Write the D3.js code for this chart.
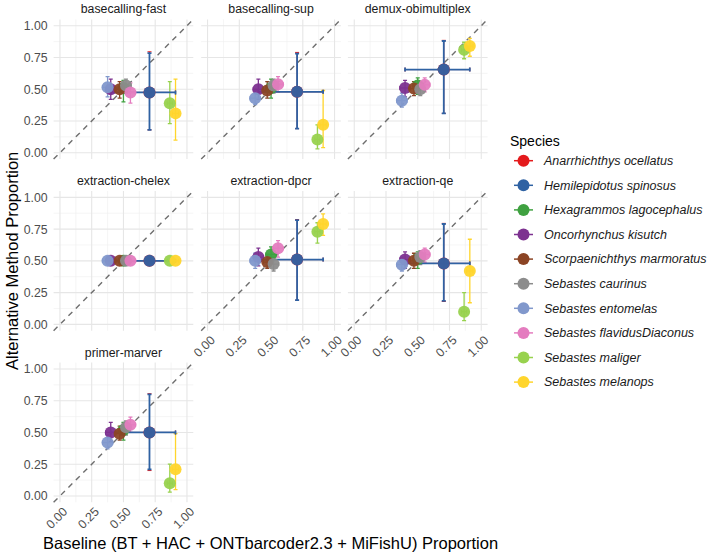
<!DOCTYPE html>
<html>
<head>
<meta charset="utf-8">
<script src="https://cdn.jsdelivr.net/npm/d3@7"></script>
<style>
  body { margin: 0; background: #fff; }
  svg { display: block; }
</style>
</head>
<body>
<script>
// species, in legend order
const species = [
    "Anarrhichthys ocellatus", "Hemilepidotus spinosus", "Hexagrammos lagocephalus",
    "Oncorhynchus kisutch", "Scorpaenichthys marmoratus", "Sebastes caurinus",
    "Sebastes entomelas", "Sebastes flavidusDiaconus", "Sebastes maliger", "Sebastes melanops"
];
const speciesColors = [
    "#e41a1c", "#2f62a3", "#3fa140", "#7d3290", "#8b4424",
    "#8c8c8c", "#8198cc", "#e47cbf", "#98d24e", "#ffd52c"
];

const panelNames = [
    "basecalling-fast", "basecalling-sup", "demux-obimultiplex",
    "extraction-chelex", "extraction-dpcr", "extraction-qe", "primer-marver"
];

// baseline proportion (x) per species, with its interval
const baseX  = [0.705, 0.705, 0.50, 0.40, 0.47, 0.52, 0.375, 0.555, 0.865, 0.91];
const baseLo = [0.40, 0.40, 0.46, 0.36, 0.44, 0.48, 0.335, 0.515, 0.845, 0.885];
const baseHi = [0.91, 0.91, 0.54, 0.44, 0.50, 0.56, 0.415, 0.595, 0.885, 0.935];

// alternative method proportion (y) per panel: [y, lo, hi] in species order
const altFast = [[0.475, 0.18, 0.795], [0.475, 0.18, 0.785], [0.51, 0.40, 0.57], [0.50, 0.42, 0.58],
    [0.50, 0.43, 0.56], [0.53, 0.47, 0.58], [0.515, 0.44, 0.60], [0.475, 0.39, 0.55], [0.39, 0.23, 0.56], [0.31, 0.10, 0.58]];
const altSup = [[0.48, 0.19, 0.79], [0.48, 0.19, 0.78], [0.51, 0.43, 0.58], [0.50, 0.42, 0.58],
    [0.49, 0.43, 0.56], [0.53, 0.47, 0.58], [0.43, 0.38, 0.49], [0.54, 0.48, 0.60], [0.105, 0.03, 0.22], [0.22, 0.04, 0.49]];
const altDemux = [[0.655, 0.31, 0.885], [0.655, 0.31, 0.88], [0.53, 0.46, 0.59], [0.51, 0.44, 0.57],
    [0.505, 0.45, 0.56], [0.50, 0.45, 0.55], [0.41, 0.36, 0.47], [0.535, 0.48, 0.59], [0.81, 0.74, 0.87], [0.84, 0.76, 0.90]];
const altChelex = [[0.50, 0.50, 0.50], [0.50, 0.50, 0.50], [0.50, 0.50, 0.50], [0.50, 0.50, 0.50],
    [0.50, 0.50, 0.50], [0.50, 0.50, 0.50], [0.50, 0.50, 0.50], [0.50, 0.50, 0.50], [0.50, 0.50, 0.50], [0.50, 0.50, 0.50]];
const altDpcr = [[0.51, 0.19, 0.825], [0.51, 0.19, 0.82], [0.55, 0.48, 0.61], [0.53, 0.46, 0.60],
    [0.49, 0.44, 0.55], [0.475, 0.42, 0.53], [0.50, 0.44, 0.56], [0.60, 0.53, 0.66], [0.73, 0.64, 0.80], [0.79, 0.70, 0.87]];
const altQe = [[0.48, 0.18, 0.795], [0.48, 0.185, 0.79], [0.515, 0.44, 0.57], [0.51, 0.44, 0.57],
    [0.50, 0.44, 0.56], [0.53, 0.47, 0.58], [0.47, 0.42, 0.53], [0.55, 0.49, 0.60], [0.10, 0.03, 0.25], [0.42, 0.17, 0.67]];
const altMarver = [[0.50, 0.20, 0.805], [0.50, 0.21, 0.80], [0.52, 0.44, 0.58], [0.50, 0.43, 0.58],
    [0.49, 0.44, 0.55], [0.54, 0.48, 0.59], [0.42, 0.37, 0.48], [0.56, 0.50, 0.62], [0.10, 0.03, 0.25], [0.21, 0.05, 0.49]];
const panelAlt = [altFast, altSup, altDemux, altChelex, altDpcr, altQe, altMarver];

const tickValues = [0, 0.25, 0.5, 0.75, 1];
const minorValues = [0.125, 0.375, 0.625, 0.875];

const width = 709, height = 556;
const panelSize = 139.7;
const colLeft = [53.6, 201.2, 347.9];
const rowTop = [19.4, 191.0, 362.6];
const font = "'Liberation Sans', Arial, sans-serif";

const svg = d3.select("body").append("svg")
    .attr("width", width)
    .attr("height", height)
    .style("font-family", font);

// build rows for each panel
const panels = panelNames.map((name, p) => ({
    name,
    col: p % 3,
    row: Math.floor(p / 3),
    rows: species.map((s, i) => ({
        species: s,
        color: speciesColors[i],
        x: baseX[i], xlo: baseLo[i], xhi: baseHi[i],
        y: panelAlt[p][i][0], ylo: panelAlt[p][i][1], yhi: panelAlt[p][i][2]
    }))
}));

// error bar widths (the red one sits underneath the blue one)
function barWidth(s) {
    if (s === "Hemilepidotus spinosus") return 1.8;
    if (s === "Anarrhichthys ocellatus") return 1.0;
    return 1.3;
}

panels.forEach(panel => {
    const left = colLeft[panel.col];
    const top = rowTop[panel.row];

    const x = d3.scaleLinear().domain([-0.05, 1.05]).range([left, left + panelSize]);
    const y = d3.scaleLinear().domain([-0.05, 1.05]).range([top + panelSize, top]);

    const g = svg.append("g");

    // grid lines
    g.selectAll(".minor-x").data(minorValues).join("line")
        .attr("x1", d => x(d)).attr("x2", d => x(d))
        .attr("y1", top).attr("y2", top + panelSize)
        .attr("stroke", "#efefef").attr("stroke-width", 0.6);
    g.selectAll(".minor-y").data(minorValues).join("line")
        .attr("y1", d => y(d)).attr("y2", d => y(d))
        .attr("x1", left).attr("x2", left + panelSize)
        .attr("stroke", "#efefef").attr("stroke-width", 0.6);
    g.selectAll(".major-x").data(tickValues).join("line")
        .attr("x1", d => x(d)).attr("x2", d => x(d))
        .attr("y1", top).attr("y2", top + panelSize)
        .attr("stroke", "#e6e6e6").attr("stroke-width", 1.1);
    g.selectAll(".major-y").data(tickValues).join("line")
        .attr("y1", d => y(d)).attr("y2", d => y(d))
        .attr("x1", left).attr("x2", left + panelSize)
        .attr("stroke", "#e6e6e6").attr("stroke-width", 1.1);

    // identity line
    g.append("line")
        .attr("x1", x(-0.05)).attr("y1", y(-0.05))
        .attr("x2", x(1.05)).attr("y2", y(1.05))
        .attr("stroke", "#6e6e6e")
        .attr("stroke-width", 1.4)
        .attr("stroke-dasharray", "5.5,5");

    // strip title
    svg.append("text")
        .attr("x", left + panelSize / 2)
        .attr("y", top - 6)
        .attr("text-anchor", "middle")
        .attr("font-size", "12.3px")
        .attr("fill", "#1a1a1a")
        .text(panel.name);

    const cap = 2;

    // vertical error bars
    panel.rows.forEach(d => {
        const path = d3.path();
        path.moveTo(x(d.x) - cap, y(d.yhi)); path.lineTo(x(d.x) + cap, y(d.yhi));
        path.moveTo(x(d.x), y(d.yhi)); path.lineTo(x(d.x), y(d.ylo));
        path.moveTo(x(d.x) - cap, y(d.ylo)); path.lineTo(x(d.x) + cap, y(d.ylo));
        g.append("path").attr("d", path.toString())
            .attr("fill", "none").attr("stroke", d.color)
            .attr("stroke-width", barWidth(d.species));
    });

    // horizontal error bars
    panel.rows.forEach(d => {
        const path = d3.path();
        path.moveTo(x(d.xlo), y(d.y) - cap); path.lineTo(x(d.xlo), y(d.y) + cap);
        path.moveTo(x(d.xlo), y(d.y)); path.lineTo(x(d.xhi), y(d.y));
        path.moveTo(x(d.xhi), y(d.y) - cap); path.lineTo(x(d.xhi), y(d.y) + cap);
        g.append("path").attr("d", path.toString())
            .attr("fill", "none").attr("stroke", d.color)
            .attr("stroke-width", barWidth(d.species));
    });

    // points
    g.selectAll("circle").data(panel.rows).join("circle")
        .attr("cx", d => x(d.x))
        .attr("cy", d => y(d.y))
        .attr("r", 6)
        .attr("fill", d => d.color)
        .attr("opacity", 0.95);

    // y axis labels on first column
    if (panel.col === 0) {
        const yAxis = d3.axisLeft(y).tickValues(tickValues)
            .tickFormat(d3.format(".2f")).tickSize(0).tickPadding(0);
        const ag = svg.append("g")
            .attr("transform", `translate(${left - 6},0)`)
            .call(yAxis);
        ag.select(".domain").remove();
        ag.selectAll("text").attr("font-size", "12.3px").attr("fill", "#4d4d4d")
            .attr("font-family", font);
    }

    // x axis labels on the lowest panel of each column
    const lowest = panel.row === 2 || (panel.row === 1 && panel.col > 0);
    if (lowest) {
        svg.append("g").selectAll("text").data(tickValues).join("text")
            .attr("transform", d => `translate(${x(d) + 2},${top + panelSize + 4}) rotate(-45)`)
            .attr("dy", "0.71em")
            .attr("text-anchor", "end")
            .attr("font-size", "12.3px")
            .attr("fill", "#4d4d4d")
            .text(d => d3.format(".2f")(d));
    }
});

// axis titles
svg.append("text")
    .attr("x", (colLeft[0] + colLeft[2] + panelSize) / 2)
    .attr("y", 549)
    .attr("text-anchor", "middle")
    .attr("font-size", "16.5px")
    .attr("fill", "#000")
    .text("Baseline (BT + HAC + ONTbarcoder2.3 + MiFishU) Proportion");

svg.append("text")
    .attr("transform", `translate(18,${(rowTop[0] + rowTop[2] + panelSize) / 2}) rotate(-90)`)
    .attr("text-anchor", "middle")
    .attr("font-size", "16.5px")
    .attr("fill", "#000")
    .text("Alternative Method Proportion");

// legend
const legend = svg.append("g").attr("transform", "translate(510,0)");
legend.append("text")
    .attr("x", 0).attr("y", 146)
    .attr("font-size", "14px")
    .attr("fill", "#000")
    .text("Species");

species.forEach((s, i) => {
    const ky = 160.7 + i * 24.6;
    legend.append("line")
        .attr("x1", 4).attr("x2", 23)
        .attr("y1", ky).attr("y2", ky)
        .attr("stroke", speciesColors[i]).attr("stroke-width", 1.5);
    legend.append("circle")
        .attr("cx", 13.5).attr("cy", ky).attr("r", 6)
        .attr("fill", speciesColors[i]);
    legend.append("text")
        .attr("x", 34).attr("y", ky)
        .attr("dy", "0.35em")
        .attr("font-size", "12.5px")
        .attr("font-style", "italic")
        .attr("fill", "#1a1a1a")
        .text(s);
});
</script>
</body>
</html>
